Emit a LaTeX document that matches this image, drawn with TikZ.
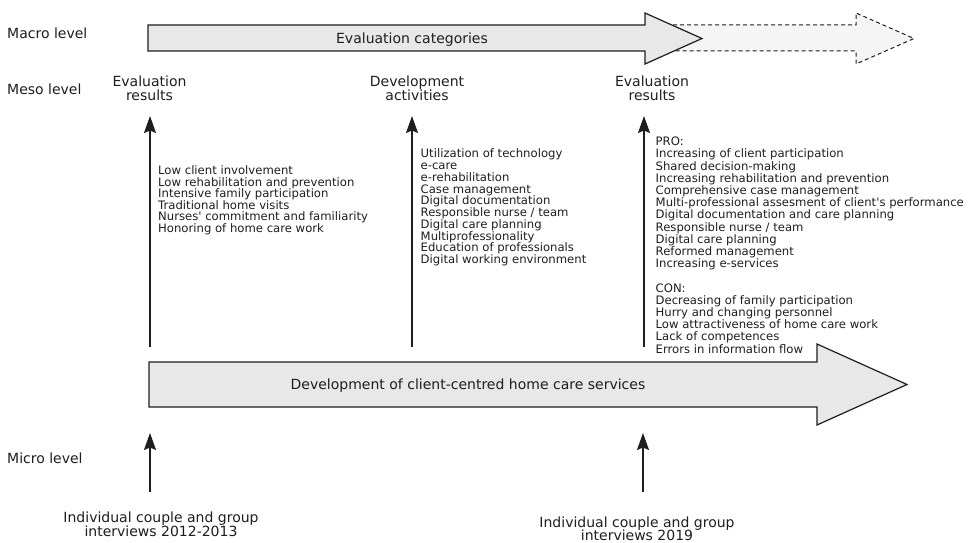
\documentclass[tikz,border=0pt]{standalone}
\usepackage{fontspec}
\setmainfont{DejaVu Sans}
\usepackage{tikz}
\usetikzlibrary{arrows.meta}
\definecolor{boxfill}{HTML}{E8E8E8}
\definecolor{ghostfill}{HTML}{F5F5F5}
\definecolor{ink}{HTML}{1E1E1E}
\tikzset{
    levellabel/.style = {anchor=base west, inner sep=0pt, font=\fontsize{14}{14}\selectfont},
    arrowtext/.style = {anchor=base, inner sep=0pt, font=\fontsize{14}{14}\selectfont},
    headlabel/.style = {anchor=north, align=center, inner sep=0pt, font={\fontsize{14}{13.6}\selectfont\lineskiplimit=-6pt}},
    itemlist/.style = {anchor=north west, align=left, inner sep=0pt, font={\fontsize{11.65}{#1}\selectfont\lineskiplimit=-6pt}},
    blockarrow/.style = {draw=ink, line width=1.2pt, fill=boxfill, line join=miter},
    ghostarrow/.style = {draw=ink, line width=1pt, fill=ghostfill, dash pattern=on 4pt off 3pt},
    uparrow/.style = {-{Stealth[length=17pt,width=12pt,inset=2.5pt]}, line width=1.4pt, draw=ink},
}

\begin{document}
\begin{tikzpicture}[x=1pt, y=-1pt, text=ink]
  \useasboundingbox (0,0) rectangle (970,543);

  % levels
  \node[levellabel] (macro) at (7,38.3) {Macro level};
  \node[levellabel] (meso)  at (7,94.5) {Meso level};
  \node[levellabel] (micro) at (7,463)  {Micro level};

  % macro arrow, the dashed part goes on
  \draw[ghostarrow] (645,25) -- (856,25) -- (856,13) -- (914,38.5) -- (856,64) -- (856,51) -- (645,51);
  \draw[blockarrow] (148,25) -- (645,25) -- (645,13) -- (702,38.5) -- (645,64) -- (645,51) -- (148,51) -- cycle;
  \node[arrowtext] (evalcat) at (412,43.3) {Evaluation categories};

  % meso
  \node[headlabel] (resA) at (149.5,76) {Evaluation\\results};
  \node[headlabel] (devact) at (417,76) {Development\\activities};
  \node[headlabel] (resB) at (652,76) {Evaluation\\results};

  \node[itemlist=11.55] (listA) at (158,165.6) {Low client involvement\\
    Low rehabilitation and prevention\\
    Intensive family participation\\
    Traditional home visits\\
    Nurses\textquotesingle{} commitment and familiarity\\
    Honoring of home care work};
  \node[itemlist=11.75] (listB) at (420.5,148.7) {Utilization of technology\\
    e-care\\
    e-rehabilitation\\
    Case management\\
    Digital documentation\\
    Responsible nurse / team\\
    Digital care planning\\
    Multiprofessionality\\
    Education of professionals\\
    Digital working environment};
  \node[itemlist=12.2] (listC) at (655.5,136.9) {PRO:\\
    Increasing of client participation\\
    Shared decision-making\\
    Increasing rehabilitation and prevention\\
    Comprehensive case management\\
    Multi-professional assesment of client\textquotesingle{}s performance\\
    Digital documentation and care planning\\
    Responsible nurse / team\\
    Digital care planning\\
    Reformed management\\
    Increasing e-services\\[12.2pt]
    CON:\\
    Decreasing of family participation\\
    Hurry and changing personnel\\
    Low attractiveness of home care work\\
    Lack of competences\\
    Errors in information flow};

  % client-centred development
  \draw[blockarrow] (149,362) -- (817,362) -- (817,344) -- (907,384.5) -- (817,425) -- (817,407) -- (149,407) -- cycle;
  \node[arrowtext] (devel) at (468,389.5) {Development of client-centred home care services};

  \coordinate (footA) at (150,347);
  \coordinate (tipA)  at (150,116);
  \coordinate (footB) at (412,347);
  \coordinate (tipB)  at (412,116);
  \coordinate (footC) at (644,347);
  \coordinate (tipC)  at (644,116);
  \draw[uparrow] (footA) -- (tipA);
  \draw[uparrow] (footB) -- (tipB);
  \draw[uparrow] (footC) -- (tipC);

  % micro
  \node[headlabel] (interA) at (161,512) {Individual couple and group\\interviews 2012-2013};
  \node[headlabel] (interB) at (637,516.5) {Individual couple and group\\interviews 2019};

  \coordinate (botA) at (150,492);
  \coordinate (topA) at (150,433);
  \coordinate (botB) at (643,492);
  \coordinate (topB) at (643,433);
  \draw[uparrow] (botA) -- (topA);
  \draw[uparrow] (botB) -- (topB);
\end{tikzpicture}
\end{document}
